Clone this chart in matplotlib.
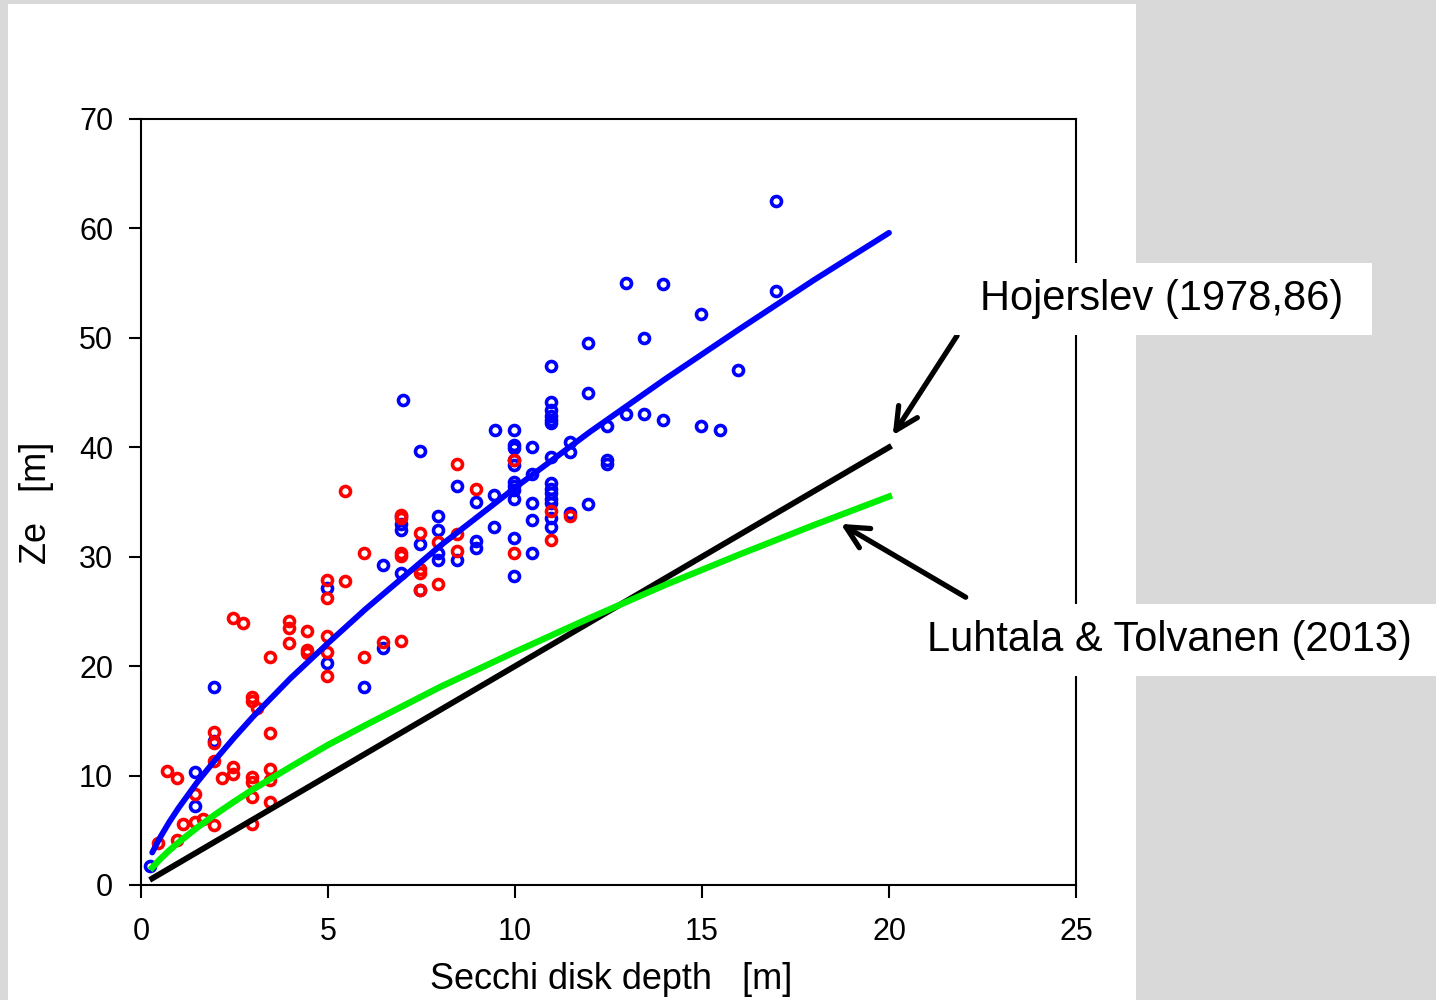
import numpy as np
import matplotlib.pyplot as plt
from matplotlib.patches import Rectangle

plt.rcParams['font.family'] = ['Liberation Sans', 'DejaVu Sans']

# measured points, red series
red_x = [0.45, 0.95, 0.7, 0.95, 1.13, 1.44, 1.67, 1.44, 1.95, 1.95, 1.95, 1.95,
         2.16, 2.47, 2.47, 2.47, 2.72, 2.96, 2.96, 2.96, 2.96, 2.96, 2.96, 3.1,
         3.45, 3.45, 3.45, 3.45, 3.45, 3.96, 3.96, 3.96, 4.45, 4.45, 4.45,
         4.96, 4.96, 4.96, 4.96, 4.96, 5.45, 5.45, 5.96, 5.96, 6.46, 6.96,
         6.96, 6.96, 6.96, 6.96, 7.46, 7.46, 7.46, 7.46, 7.95, 7.95, 8.45,
         8.45, 8.45, 8.96, 9.96, 9.96, 10.95, 10.95, 11.47]
red_y = [3.8, 4.1, 10.4, 9.8, 5.6, 5.8, 6.0, 8.3, 5.5, 11.3, 13.0, 14.0,
         9.8, 10.1, 10.8, 24.4, 23.9, 5.6, 8.0, 9.4, 9.9, 16.8, 17.2, 16.2,
         7.6, 9.6, 10.6, 13.9, 20.8, 22.1, 23.5, 24.1, 21.2, 21.5, 23.2,
         19.1, 21.3, 22.8, 26.2, 27.9, 27.8, 36.0, 20.8, 30.3, 22.2, 22.3,
         30.1, 30.3, 33.5, 33.8, 27.0, 28.5, 28.9, 32.2, 27.5, 31.3, 30.5,
         32.1, 38.5, 36.2, 30.3, 38.8, 31.5, 34.2, 33.7]

# blue series
blue_x = [0.24, 1.44, 1.44, 1.95, 1.95, 4.96, 4.96, 5.96, 6.46, 6.46, 6.96,
          6.96, 6.96, 6.96, 7.0, 7.46, 7.46, 7.46, 7.95, 7.95, 7.95, 7.95,
          8.44, 8.44, 8.96, 8.96, 8.96, 9.44, 9.44, 9.47, 9.96, 9.96, 9.96,
          9.96, 9.96, 9.96, 9.96, 9.96, 9.96, 9.96, 9.96, 10.46, 10.46, 10.46,
          10.46, 10.46, 10.95, 10.95, 10.95, 10.95, 10.95, 10.95, 10.95, 10.95,
          10.95, 10.95, 10.95, 10.95, 10.95, 10.95, 11.47, 11.47, 11.47, 11.96,
          11.96, 11.96, 12.46, 12.46, 12.46, 12.96, 12.96, 13.46, 13.46, 13.97,
          13.97, 14.97, 14.97, 15.47, 15.97, 16.98, 16.98]
blue_y = [1.7, 7.2, 10.3, 13.2, 18.1, 20.3, 27.1, 18.1, 21.7, 29.2, 28.5,
          32.4, 33.0, 33.7, 44.3, 27.0, 31.2, 39.7, 29.7, 30.3, 32.4, 33.7,
          29.7, 36.5, 30.8, 31.4, 35.0, 32.7, 35.6, 41.6, 28.2, 31.7, 35.3,
          36.1, 36.5, 36.8, 38.4, 38.8, 39.9, 40.2, 41.6, 30.3, 33.4, 34.9,
          37.6, 40.0, 32.7, 33.5, 34.9, 35.3, 35.8, 36.2, 36.7, 39.1,
          42.2, 42.5, 42.9, 43.4, 44.1, 47.4, 34.0, 39.6, 40.5, 34.8,
          45.0, 49.5, 38.5, 38.8, 41.9, 43.0, 55.0, 43.0, 50.0, 42.5,
          54.9, 41.9, 52.2, 41.6, 47.1, 54.3, 62.5]

# curves
curve_x = [0.3, 0.5, 0.75, 1, 1.5, 2, 2.5, 3, 4, 5, 6, 8, 10, 12, 14, 16, 18, 20]
blue_fit = [2.97, 4.28, 5.72, 7.02, 9.38, 11.5, 13.5, 15.4, 18.9, 22.1, 25.2,
            31.0, 36.3, 41.4, 46.2, 50.8, 55.3, 59.6]
green_fit = [1.59, 2.32, 3.14, 3.88, 5.24, 6.48, 7.64, 8.75, 10.8, 12.8, 14.6,
             18.1, 21.3, 24.4, 27.4, 30.2, 32.9, 35.5]
black_x = [0.3, 20]
black_y = [0.6, 40]

fig = plt.figure(figsize=(14.36, 10), dpi=100, facecolor='#d9d9d9')
fig.add_artist(Rectangle((8 / 1436, 0), 1128 / 1436, 0.996, transform=fig.transFigure,
                         facecolor='white', edgecolor='none', zorder=-1))
ax = fig.add_axes([141 / 1436, 0.115, 935 / 1436, 0.766])

mk = dict(marker='o', ls='none', ms=7.2, mew=2.6, mfc='none')
ax.plot(blue_x, blue_y, mec='#0000ff', **mk)
ax.plot(red_x, red_y, mec='#ff0000', **mk)
ax.plot(black_x, black_y, color='black', lw=4.2)
ax.plot(curve_x, green_fit, color='#00ee00', lw=4.6)
ax.plot(curve_x, blue_fit, color='#0000ff', lw=4.2, solid_capstyle='round')

ax.set_xlim(0, 25)
ax.set_ylim(0, 70)
ax.set_xticks([0, 5, 10, 15, 20, 25])
ax.set_yticks(range(0, 71, 10))
ax.tick_params(direction='out', length=9, width=1.5, pad=11, labelsize=22)
ax.tick_params(axis='x', pad=14)
for s in ax.spines.values():
    s.set_linewidth(1.5)

ax.set_xlabel('Secchi disk depth   [m]', fontsize=26, va='center')
ax.xaxis.set_label_coords(0.503, -0.124)
ax.set_ylabel('Ze   [m]', fontsize=26, va='center')
ax.yaxis.set_label_coords(-0.112, 0.499)

# label boxes covering the right spine
fig.add_artist(Rectangle((951 / 1436, 1 - 335 / 1000), 421 / 1436, 0.072,
                         transform=fig.transFigure, facecolor='white', edgecolor='none', zorder=1))
fig.add_artist(Rectangle((903 / 1436, 1 - 676 / 1000), 533 / 1436, 0.072,
                         transform=fig.transFigure, facecolor='white', edgecolor='none', zorder=1))
fig.text(1161.5 / 1436, 1 - 299 / 1000, 'Hojerslev (1978,86)', fontsize=30,
         ha='center', va='center', zorder=3)
fig.text(1169 / 1436, 1 - 640 / 1000, 'Luhtala & Tolvanen (2013)', fontsize=30,
         ha='center', va='center', zorder=3)

arrow = dict(arrowstyle='->,head_length=1.6,head_width=0.8', lw=3.8, color='black',
             shrinkA=0, shrinkB=0)
ax.annotate('', xy=(20.1, 41.1), xytext=(21.82, 50.2), arrowprops=arrow,
            annotation_clip=False)
ax.annotate('', xy=(18.71, 33.0), xytext=(22.05, 26.3), arrowprops=arrow,
            annotation_clip=False)

fig.savefig('out.png', dpi=100, facecolor=fig.get_facecolor())
